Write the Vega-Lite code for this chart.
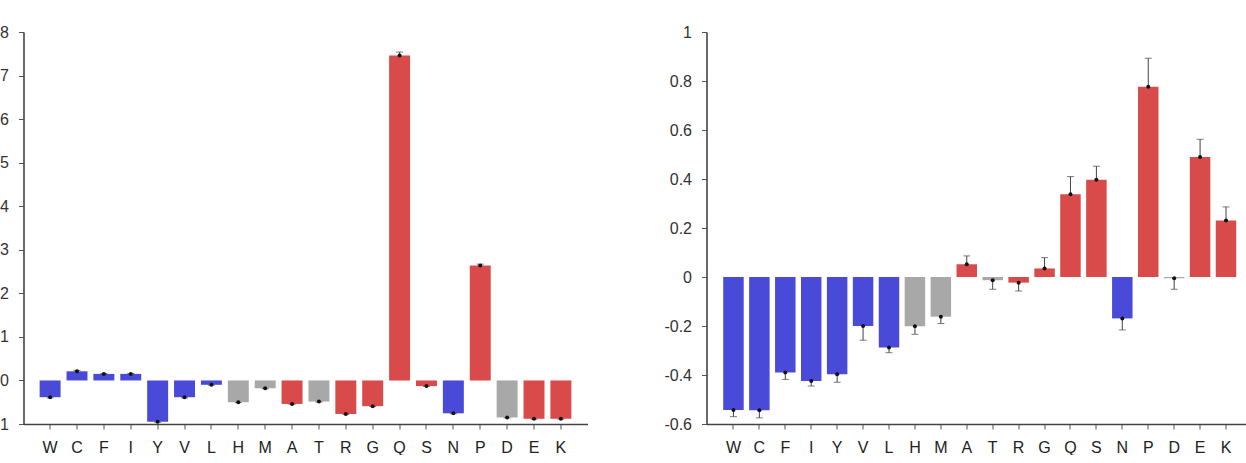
{
  "$schema": "https://vega.github.io/schema/vega-lite/v6.json",
  "background": "white",
  "padding": {"left": -6.5, "top": 24, "right": 0, "bottom": 0},
  "bounds": "flush",
  "spacing": 119,
  "config": {
    "view": {"stroke": null},
    "font": "Liberation Sans",
    "axis": {
      "grid": false,
      "title": null,
      "domainColor": "#444444",
      "domainWidth": 1.6,
      "tickColor": "#555555",
      "tickSize": 5,
      "labelFontSize": 16,
      "labelFlush": false,
      "labelOverlap": false
    }
  },
  "datasets": {
    "left": [
      {"aa": "W", "group": "hydrophobic", "value": -0.385, "err_end": -0.4},
      {"aa": "C", "group": "hydrophobic", "value": 0.21, "err_end": 0.23},
      {"aa": "F", "group": "hydrophobic", "value": 0.15, "err_end": 0.16},
      {"aa": "I", "group": "hydrophobic", "value": 0.15, "err_end": 0.16},
      {"aa": "Y", "group": "hydrophobic", "value": -0.947, "err_end": -0.96},
      {"aa": "V", "group": "hydrophobic", "value": -0.385, "err_end": -0.4},
      {"aa": "L", "group": "hydrophobic", "value": -0.1, "err_end": -0.11},
      {"aa": "H", "group": "neutral", "value": -0.5, "err_end": -0.51},
      {"aa": "M", "group": "neutral", "value": -0.18, "err_end": -0.19},
      {"aa": "A", "group": "hydrophilic", "value": -0.54, "err_end": -0.55},
      {"aa": "T", "group": "neutral", "value": -0.485, "err_end": -0.495},
      {"aa": "R", "group": "hydrophilic", "value": -0.77, "err_end": -0.78},
      {"aa": "G", "group": "hydrophilic", "value": -0.59, "err_end": -0.6},
      {"aa": "Q", "group": "hydrophilic", "value": 7.46, "err_end": 7.54},
      {"aa": "S", "group": "hydrophilic", "value": -0.13, "err_end": -0.14},
      {"aa": "N", "group": "hydrophobic", "value": -0.755, "err_end": -0.765},
      {"aa": "P", "group": "hydrophilic", "value": 2.64, "err_end": 2.67},
      {"aa": "D", "group": "neutral", "value": -0.85, "err_end": -0.86},
      {"aa": "E", "group": "hydrophilic", "value": -0.88, "err_end": -0.89},
      {"aa": "K", "group": "hydrophilic", "value": -0.88, "err_end": -0.89}
    ],
    "right": [
      {"aa": "W", "group": "hydrophobic", "value": -0.543, "err_end": -0.57},
      {"aa": "C", "group": "hydrophobic", "value": -0.544, "err_end": -0.575},
      {"aa": "F", "group": "hydrophobic", "value": -0.39, "err_end": -0.418},
      {"aa": "I", "group": "hydrophobic", "value": -0.424, "err_end": -0.445},
      {"aa": "Y", "group": "hydrophobic", "value": -0.397, "err_end": -0.43},
      {"aa": "V", "group": "hydrophobic", "value": -0.2, "err_end": -0.258},
      {"aa": "L", "group": "hydrophobic", "value": -0.288, "err_end": -0.309},
      {"aa": "H", "group": "neutral", "value": -0.201, "err_end": -0.234},
      {"aa": "M", "group": "neutral", "value": -0.162, "err_end": -0.19},
      {"aa": "A", "group": "hydrophilic", "value": 0.052, "err_end": 0.086},
      {"aa": "T", "group": "neutral", "value": -0.013, "err_end": -0.05},
      {"aa": "R", "group": "hydrophilic", "value": -0.023, "err_end": -0.057},
      {"aa": "G", "group": "hydrophilic", "value": 0.035, "err_end": 0.079},
      {"aa": "Q", "group": "hydrophilic", "value": 0.338, "err_end": 0.41},
      {"aa": "S", "group": "hydrophilic", "value": 0.397, "err_end": 0.452},
      {"aa": "N", "group": "hydrophobic", "value": -0.169, "err_end": -0.216},
      {"aa": "P", "group": "hydrophilic", "value": 0.777, "err_end": 0.893},
      {"aa": "D", "group": "neutral", "value": -0.005, "err_end": -0.05},
      {"aa": "E", "group": "hydrophilic", "value": 0.49, "err_end": 0.562},
      {"aa": "K", "group": "hydrophilic", "value": 0.231, "err_end": 0.286}
    ]
  },
  "hconcat": [
    {
      "width": 564,
      "height": 392,
      "data": {"name": "left"},
      "encoding": {
        "x": {
          "field": "aa", "type": "nominal", "sort": null,
          "scale": {"paddingInner": 0.22, "paddingOuter": 0.6},
          "axis": {"labelAngle": 0, "labelPadding": 10, "labelColor": "#222222"}
        }
      },
      "layer": [
        {
          "mark": {"type": "bar"},
          "encoding": {
            "y": {
              "field": "value", "type": "quantitative",
              "scale": {"domain": [-1, 8], "nice": false, "zero": false},
              "axis": {"values": [-1, 0, 1, 2, 3, 4, 5, 6, 7, 8], "labelExpr": "'' + datum.value", "labelPadding": 10, "labelColor": "#333333"}
            },
            "y2": {"datum": 0},
            "color": {
              "field": "group", "type": "nominal",
              "scale": {"domain": ["hydrophobic", "neutral", "hydrophilic"], "range": ["#4a4ad8", "#a8a8a8", "#d94b4b"]},
              "legend": null
            }
          }
        },
        {
          "mark": {"type": "rule", "color": "#999999", "strokeWidth": 1.5},
          "encoding": {"y": {"datum": 0}}
        },
        {
          "mark": {"type": "rule", "color": "#444444", "strokeWidth": 1},
          "encoding": {"y": {"field": "value", "type": "quantitative"}, "y2": {"field": "err_end"}}
        },
        {
          "mark": {"type": "tick", "orient": "horizontal", "size": 7, "thickness": 1, "color": "#444444"},
          "encoding": {"y": {"field": "err_end", "type": "quantitative"}}
        },
        {
          "mark": {"type": "point", "filled": true, "size": 16, "color": "#111111", "opacity": 1},
          "encoding": {"y": {"field": "value", "type": "quantitative"}}
        }
      ]
    },
    {
      "width": 540,
      "height": 392,
      "data": {"name": "right"},
      "encoding": {
        "x": {
          "field": "aa", "type": "nominal", "sort": null,
          "scale": {"paddingInner": 0.21, "paddingOuter": 0.52, "align": 0.62},
          "axis": {"labelAngle": 0, "labelPadding": 10, "labelColor": "#222222"}
        }
      },
      "layer": [
        {
          "mark": {"type": "bar"},
          "encoding": {
            "y": {
              "field": "value", "type": "quantitative",
              "scale": {"domain": [-0.6, 1], "nice": false, "zero": false},
              "axis": {"values": [-0.6, -0.4, -0.2, 0, 0.2, 0.4, 0.6, 0.8, 1], "labelExpr": "'' + datum.value", "labelPadding": 10, "labelColor": "#333333"}
            },
            "y2": {"datum": 0},
            "color": {
              "field": "group", "type": "nominal",
              "scale": {"domain": ["hydrophobic", "neutral", "hydrophilic"], "range": ["#4a4ad8", "#a8a8a8", "#d94b4b"]},
              "legend": null
            }
          }
        },
        {
          "mark": {"type": "rule", "color": "#999999", "strokeWidth": 1.5},
          "encoding": {"y": {"datum": 0}}
        },
        {
          "mark": {"type": "rule", "color": "#444444", "strokeWidth": 1},
          "encoding": {"y": {"field": "value", "type": "quantitative"}, "y2": {"field": "err_end"}}
        },
        {
          "mark": {"type": "tick", "orient": "horizontal", "size": 7, "thickness": 1, "color": "#444444"},
          "encoding": {"y": {"field": "err_end", "type": "quantitative"}}
        },
        {
          "mark": {"type": "point", "filled": true, "size": 16, "color": "#111111", "opacity": 1},
          "encoding": {"y": {"field": "value", "type": "quantitative"}}
        }
      ]
    }
  ]
}
